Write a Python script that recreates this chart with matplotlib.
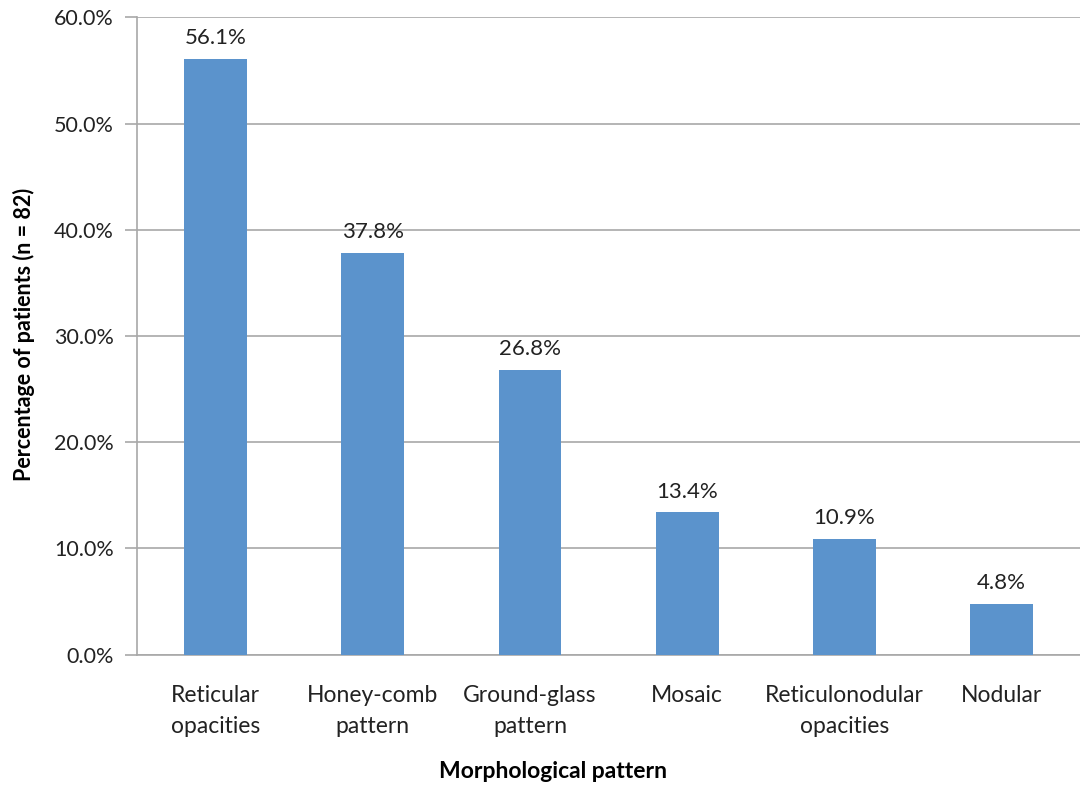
import matplotlib.pyplot as plt

plt.rcParams['font.family'] = ['Lato', 'DejaVu Sans']

categories = ['Reticular\nopacities', 'Honey-comb\npattern', 'Ground-glass\npattern',
              'Mosaic', 'Reticulonodular\nopacities', 'Nodular']
values = [56.1, 37.8, 26.8, 13.4, 10.9, 4.8]
yticks = [0, 10, 20, 30, 40, 50, 60]

bar_color = '#5B93CC'
grid_color = '#A8A8A8'
text_color = '#222222'

fig = plt.figure(figsize=(10.8, 7.85), dpi=100)
ax = fig.add_axes([0.127, 0.166, 0.873, 0.812])

x = range(len(categories))
bars = ax.bar(x, values, width=0.4, color=bar_color, zorder=3)
for b, v in zip(bars, values):
    ax.text(b.get_x() + b.get_width() / 2, v + 1.0, f'{v:.1f}%',
            ha='center', va='bottom', fontsize=16, color=text_color)

ax.set_xlim(-0.5, len(categories) - 0.5)
ax.set_ylim(0, 60)
ax.set_yticks(yticks)
ax.set_yticklabels([f'{t:.1f}%' for t in yticks])
ax.set_xticks(list(x))
ax.set_xticklabels(categories, linespacing=1.55)

ax.yaxis.grid(True, color=grid_color, linewidth=1.2, zorder=0)
for s in ['top', 'right']:
    ax.spines[s].set_visible(False)
for s in ['left', 'bottom']:
    ax.spines[s].set_color(grid_color)
    ax.spines[s].set_linewidth(1.2)

ax.tick_params(axis='y', length=9, width=1.2, color=grid_color, labelsize=15.5,
               labelcolor=text_color, pad=8)
ax.tick_params(axis='x', length=0, labelsize=16.5, labelcolor=text_color, pad=22)

ax.set_ylabel('Percentage of patients (n = 82)', fontsize=15.5, fontweight='bold')
ax.set_xlabel('Morphological pattern', fontsize=16.5, fontweight='bold')
ax.yaxis.set_label_coords(-0.108, 0.503)
ax.xaxis.set_label_coords(0.441, -0.166)

fig.savefig('out.png', dpi=100)
